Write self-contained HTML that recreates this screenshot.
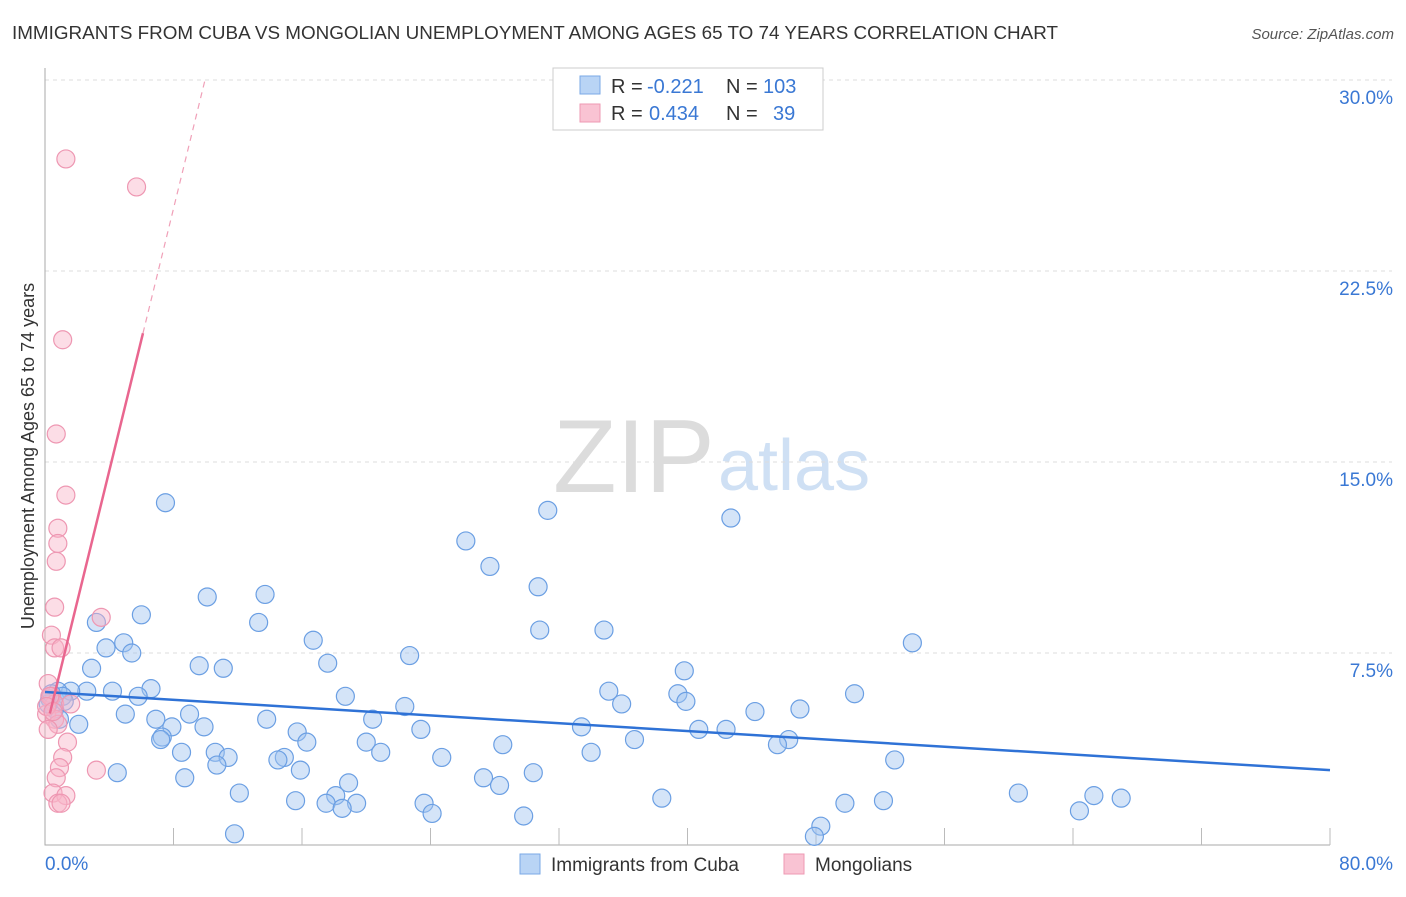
<!DOCTYPE html>
<html><head><meta charset="utf-8"><style>
body{margin:0;background:#fff;font-family:"Liberation Sans",sans-serif}
svg text{font-family:"Liberation Sans",sans-serif}
</style></head><body>
<svg id="chart" width="1406" height="892" xmlns="http://www.w3.org/2000/svg">
<text x="12" y="39" font-size="18" fill="#333" textLength="1046" lengthAdjust="spacingAndGlyphs">IMMIGRANTS FROM CUBA VS MONGOLIAN UNEMPLOYMENT AMONG AGES 65 TO 74 YEARS CORRELATION CHART</text>
<text x="1394" y="39" font-size="15" fill="#555" text-anchor="end" font-style="italic">Source: ZipAtlas.com</text>
<g><text x="553" y="492" font-size="104" fill="#dcdcdc" font-family="Liberation Serif">ZIP</text><text x="718" y="490" font-size="72" fill="#cfe0f4">atlas</text></g>
<text transform="translate(34,456) rotate(-90)" font-size="18" fill="#333" text-anchor="middle">Unemployment Among Ages 65 to 74 years</text>
<g id="grid"></g><g id="axes"></g><g id="pts"></g><g id="lines"></g>
<g font-size="20">
<rect x="553" y="68" width="270" height="62" fill="#fff" stroke="#ccc"/>
<rect x="580" y="76" width="20" height="18" fill="#b9d4f5" stroke="#7aa8e6"/>
<rect x="580" y="104" width="20" height="18" fill="#f9c3d3" stroke="#ee9ab3"/>
<text x="611" y="93" fill="#333">R =</text><text x="647" y="93" fill="#3a78d4">-0.221</text>
<text x="726" y="93" fill="#333">N =</text><text x="763" y="93" fill="#3a78d4">103</text>
<text x="611" y="120" fill="#333">R =</text><text x="649" y="120" fill="#3a78d4">0.434</text>
<text x="726" y="120" fill="#333">N =</text><text x="773" y="120" fill="#3a78d4">39</text>
</g>
<g>
<rect x="520" y="854" width="20" height="20" fill="#b9d4f5" stroke="#7aa8e6"/>
<text x="551" y="871" font-size="19" fill="#333">Immigrants from Cuba</text>
<rect x="784" y="854" width="20" height="20" fill="#f9c3d3" stroke="#ee9ab3"/>
<text x="815" y="871" font-size="19" fill="#333">Mongolians</text>
</g>
</svg>
<script>
const yTicks=[7.5,15,22.5,30];
const yTickLabels=["7.5%","15.0%","22.5%","30.0%"];
const xTickLabels=["0.0%","80.0%"];
const cubaX=[7.5,31.3,42.7,26.2,27.7,30.7,10.1,13.7,6.0,13.3,3.2,30.8,34.8,54.0,16.7,4.9,3.8,5.4,22.7,2.9,9.6,11.1,17.6,39.8,6.6,4.2,2.6,1.6,5.8,18.7,35.1,39.4,50.4,35.9,39.9,22.4,9.0,5.0,6.9,13.8,20.4,44.2,47.0,2.1,7.9,9.9,15.7,23.4,33.4,40.7,42.4,7.3,16.3,36.7,46.3,7.2,20.0,45.6,28.5,8.5,10.6,11.4,20.9,24.7,34.0,14.9,10.7,14.5,15.9,4.5,8.7,27.3,30.4,52.9,18.9,28.3,12.1,18.1,60.6,65.3,67.0,15.6,17.5,19.4,23.6,38.4,49.8,52.2,18.5,24.1,64.4,29.8,48.3,47.9,11.8,0.8,0.3,0.6,1.1,0.2,0.4,0.9,1.2];
const cubaY=[13.4,13.1,12.8,11.9,10.9,10.1,9.7,9.8,9.0,8.7,8.7,8.4,8.4,7.9,8.0,7.9,7.7,7.5,7.4,6.9,7.0,6.9,7.1,6.8,6.1,6.0,6.0,6.0,5.8,5.8,6.0,5.9,5.9,5.5,5.6,5.4,5.1,5.1,4.9,4.9,4.9,5.2,5.3,4.7,4.6,4.6,4.4,4.5,4.6,4.5,4.5,4.2,4.0,4.1,4.1,4.1,4.0,3.9,3.9,3.6,3.6,3.4,3.6,3.4,3.6,3.4,3.1,3.3,2.9,2.8,2.6,2.6,2.8,3.3,2.4,2.3,2.0,1.9,2.0,1.9,1.8,1.7,1.6,1.6,1.6,1.8,1.6,1.7,1.4,1.2,1.3,1.1,0.7,0.3,0.4,6.0,5.7,5.3,5.8,5.5,5.9,4.9,5.6];
const mongX=[1.3,5.7,1.1,0.7,1.3,0.8,0.8,0.7,0.6,3.5,0.4,0.6,1.0,0.2,0.4,0.6,1.6,0.1,0.6,0.8,0.2,1.4,1.1,0.9,0.7,3.2,0.5,1.3,0.8,1.0,0.3,0.1,0.5];
const mongY=[26.9,25.8,19.8,16.1,13.7,12.4,11.8,11.1,9.3,8.9,8.2,7.7,7.7,6.3,5.8,5.5,5.5,5.1,4.9,4.7,4.5,4.0,3.4,3.0,2.6,2.9,2.0,1.9,1.6,1.6,5.8,5.4,5.2];
const cubaTrend=[5.97,2.9];
const mongTrend=[4.35,2.575];
const X=v=>45+v/80*1285, Y=v=>844-v/30*764;
const NS="http://www.w3.org/2000/svg";
function mk(t,a,p){const e=document.createElementNS(NS,t);for(const k in a)e.setAttribute(k,a[k]);p.appendChild(e);return e;}
const grid=document.getElementById('grid'),axes=document.getElementById('axes'),pts=document.getElementById('pts'),lines=document.getElementById('lines');
yTicks.forEach((v,i)=>{
 const l=mk('line',{x1:45,x2:1392,y1:Y(v),y2:Y(v),stroke:'#ddd','stroke-dasharray':'4,4'},grid);
 
 
 const t=mk('text',{x:1393,y:Y(v)+24,'font-size':19,fill:'#3a78d4','text-anchor':'end'},axes);
 t.textContent=yTickLabels[i];
 
 
});
const ax=mk('path',{d:'M45,68 V845 H1330',stroke:'#aaa',fill:'none'},axes);


for(let i=1;i<=10;i++){const tk=mk('line',{x1:X(i*8),x2:X(i*8),y1:828,y2:845,stroke:'#bbb'},axes);
 
 }
[[0,'start',45],[80,'end',1393]].forEach((d,i)=>{const t=mk('text',{x:d[2],y:870,'font-size':19,fill:'#3a78d4','text-anchor':d[1]},axes);t.textContent=xTickLabels[i];
 
 });
cubaX.forEach((v,i)=>{const c=mk('circle',{cx:X(v),cy:Y(cubaY[i]),r:9,fill:'rgba(160,196,240,0.45)',stroke:'#6b9fe3','stroke-width':1.2},pts);
 
 });
mongX.forEach((v,i)=>{const c=mk('circle',{cx:X(v),cy:Y(mongY[i]),r:9,fill:'rgba(248,180,200,0.45)',stroke:'#ee97b2','stroke-width':1.2},pts);
 
 });
const bl=mk('line',{x1:X(0),y1:Y(cubaTrend[0]),x2:X(80),y2:Y(cubaTrend[1]),stroke:'#2f72d6','stroke-width':2.5},lines);


const m=x=>mongTrend[0]+mongTrend[1]*x;
const pl=mk('line',{x1:X(0.3),y1:Y(m(0.3)),x2:X(6.1),y2:Y(m(6.1)),stroke:'#e9668f','stroke-width':2.5},lines);


const pd=mk('line',{x1:X(6.1),y1:Y(m(6.1)),x2:X(9.96),y2:Y(m(9.96)),stroke:'#f0a0b8','stroke-width':1.2,'stroke-dasharray':'6,5'},lines);


</script>
</body></html>
